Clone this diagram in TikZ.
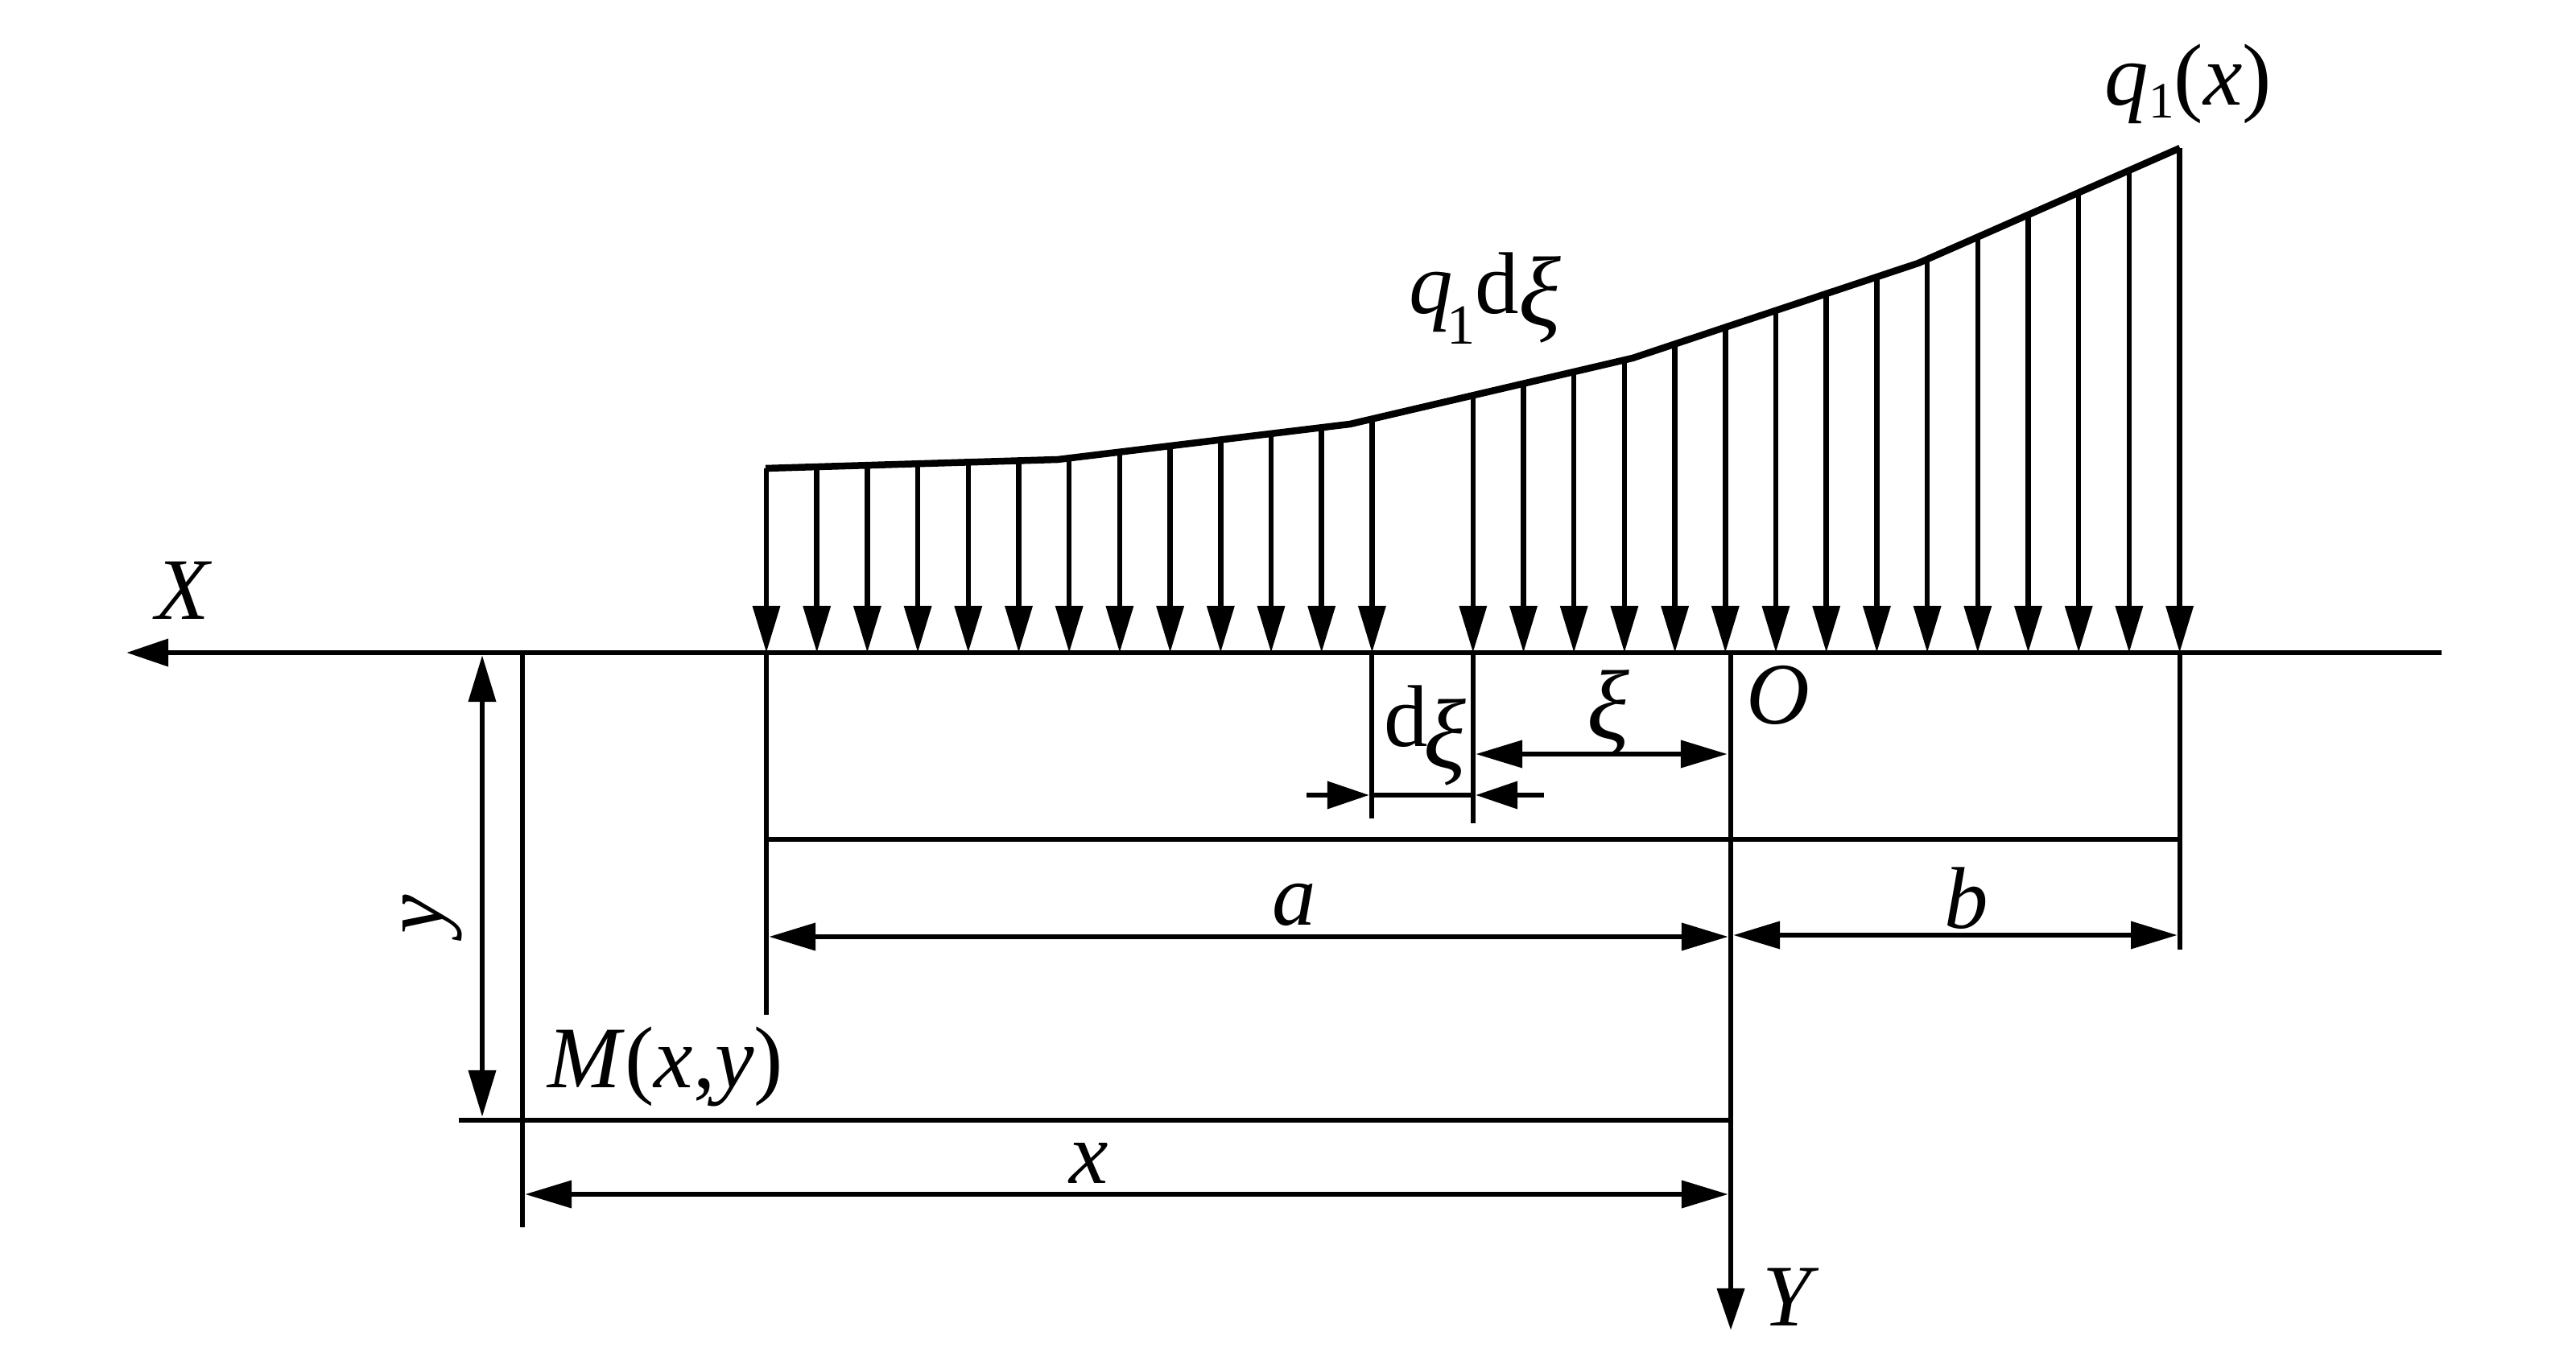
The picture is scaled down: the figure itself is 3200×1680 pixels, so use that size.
\documentclass[tikz,border=0pt]{standalone}
\usepackage{fontspec}
\setmainfont{Liberation Serif}
\usetikzlibrary{arrows.meta}
\newcommand{\xifont}{\fontsize{35}{36}\selectfont\itshape}
\begin{document}
\begin{tikzpicture}[x=0.01cm,y=-0.01cm]
	\tikzstyle{load} = [line width=0.65mm,-{Triangle[length=5.8mm,width=3.3mm]}];
	\tikzstyle{dimline} = [line width=0.68mm,{Triangle[length=5.8mm,width=3.3mm]}-{Triangle[length=5.8mm,width=3.3mm]}];
	\tikzstyle{stub} = [line width=0.68mm,-{Triangle[length=5.2mm,width=3.3mm]}];
	\tikzstyle{plain} = [line width=0.68mm];
	\tikzstyle{lbl} = [font=\fontsize{31}{36}\selectfont,inner sep=0pt];
	\useasboundingbox (0,0) rectangle (3200,1680);
	\def\tops{0/582,1/580,2/578,3/576,4/574,5/572,6/569,7/561,8/554,9/546,10/538,11/531,12/520,14/491,15/476,16/461,17/447,18/426,19/406,20/385,21/364,22/343,23/321,24/294,25/266,26/239,27/211,28/184};
	\coordinate (xtip) at (157,811);
	\coordinate (xend) at (3033,811);
	\coordinate (ytip) at (2150,1653);
	\coordinate (o) at (2150,811);
	\coordinate (a) at (952,811);
	\coordinate (b) at (2708,811);
	\coordinate (m) at (649,811);
	\coordinate (p0) at (951,582);
	\coordinate (p1) at (1314,571);
	\coordinate (p2) at (1677,527);
	\coordinate (p3) at (2028,445);
	\coordinate (p4) at (2383,327);
	\coordinate (p5) at (2708,184);
	\draw[line width=0.85mm,line join=round] (p0) -- (p1) -- (p2) -- (p3) -- (p4) -- (p5);
	\foreach \i/\t in \tops
	{
		\coordinate (t\i) at ({952+62.7*\i},\t);
		\coordinate (f\i) at ({952+62.7*\i},811);
		\draw[load] (t\i) -- (f\i);
	}
	\draw[stub] (xend) -- (xtip);
	\draw[stub] (o) -- (ytip);
	\coordinate (aend) at (952,1261);
	\coordinate (bend) at (2708,1180);
	\coordinate (mend) at (649,1525);
	\coordinate (d1) at (1704,811);
	\coordinate (d1end) at (1704,1017);
	\coordinate (d2) at (1830,811);
	\coordinate (d2end) at (1830,1023);
	\draw[plain] (a) -- (aend);
	\draw[plain] (b) -- (bend);
	\draw[plain] (m) -- (mend);
	\draw[plain] (d1) -- (d1end);
	\draw[plain] (d2) -- (d2end);
	\coordinate (ab1) at (952,1043);
	\coordinate (ab2) at (2708,1043);
	\draw[plain] (ab1) -- (ab2);
	\coordinate (my1) at (570,1392);
	\coordinate (my2) at (2150,1392);
	\draw[plain] (my1) -- (my2);
	\coordinate (yd1) at (599,814);
	\coordinate (yd2) at (599,1388);
	\draw[dimline] (yd1) -- (yd2);
	\coordinate (ad1) at (955,1164);
	\coordinate (ad2) at (2147,1164);
	\draw[dimline] (ad1) -- (ad2);
	\coordinate (bd1) at (2153,1162);
	\coordinate (bd2) at (2705,1162);
	\draw[dimline] (bd1) -- (bd2);
	\coordinate (xd1) at (652,1484);
	\coordinate (xd2) at (2147,1484);
	\draw[dimline] (xd1) -- (xd2);
	\coordinate (kd1) at (1833,937);
	\coordinate (kd2) at (2146,937);
	\draw[dimline] (kd1) -- (kd2);
	\coordinate (s1) at (1623,988);
	\coordinate (s2) at (1701,988);
	\coordinate (s3) at (1918,988);
	\coordinate (s4) at (1833,988);
	\draw[stub] (s1) -- (s2);
	\draw[stub] (s3) -- (s4);
	\draw[plain] (s2) -- (s4);
	\node[lbl] (labX) at (229,734) {\textit{X}};
	\node[lbl] (labY) at (2225,1612) {\textit{Y}};
	\node[lbl] (labO) at (2209,864) {\textit{O}};
	\node[lbl] (laba) at (1608,1124) {\textit{a}};
	\node[lbl] (labb) at (2443,1116) {\textit{b}};
	\node[lbl] (labx) at (1353,1445) {\textit{x}};
	\node[lbl,rotate=90] (laby) at (537,1136) {\textit{y}};
	\node[lbl] (labk) at (1998,886) {\xifont ξ};
	\node[lbl,anchor=base west] (labdk) at (1719,928) {d\kern-0.6mm\raisebox{-2.6mm}{\xifont ξ}};
	\node[lbl,anchor=base west] (labM) at (680,1351) {\textit{M}(\textit{x},\textit{y})};
	\node[lbl,anchor=base west] (labq) at (1750,390) {\textit{q}\kern-0.8mm\raisebox{-3.7mm}{\fontsize{20}{24}\selectfont 1}d\raisebox{-1.5mm}{\xifont ξ}};
	\node[lbl,anchor=base west] (labqx) at (2614,131) {\textit{q}\raisebox{-1.6mm}{\fontsize{18}{20}\selectfont 1}(\textit{x})};
\end{tikzpicture}
\end{document}
